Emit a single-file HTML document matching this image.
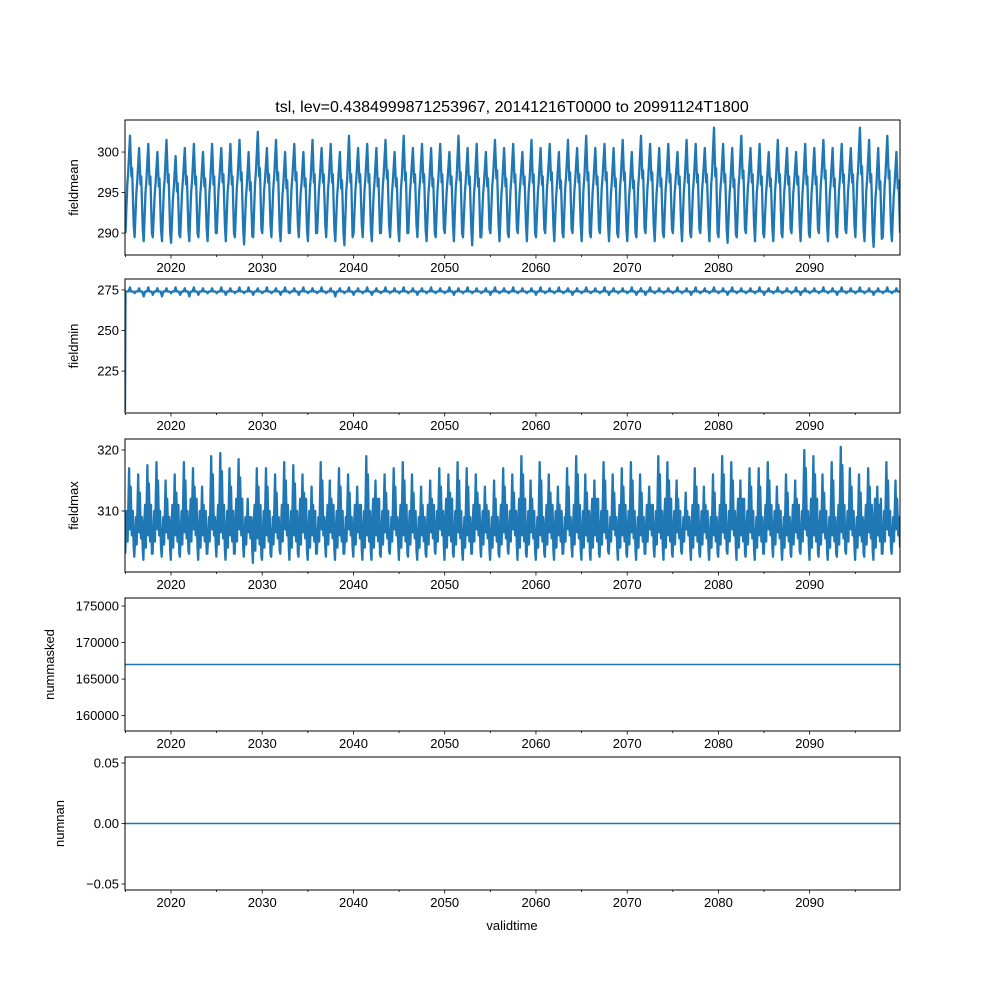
<!DOCTYPE html>
<html><head><meta charset="utf-8"><style>
body{margin:0;background:#fff}
svg text{font-family:"Liberation Sans","DejaVu Sans",sans-serif;font-size:13px;fill:#000}
</style></head><body>
<svg id="fig" width="1000" height="1000" viewBox="0 0 1000 1000" xmlns="http://www.w3.org/2000/svg">
<rect width="1000" height="1000" fill="#fff"/>
<text x="512" y="112" text-anchor="middle" style="font-size:16px">tsl, lev=0.4384999871253967, 20141216T0000 to 20991124T1800</text>
<text x="512" y="930" text-anchor="middle">validtime</text>
</svg>
<script>
const xTickLabels=[2020,2030,2040,2050,2060,2070,2080,2090];
const meanPeak=[302,300.5,301,300,301.5,299.5,300.5,301,300,301,300.5,301,301.5,300,302.5,300.5,301.5,300,301,300,301.5,300.5,301,300,302,300.5,301,300.5,301.5,300,302,300.5,301,300.5,301,300,302,300.5,301,300,301.5,300.5,301,300,301.5,300.5,301,300,301.5,300.5,302,300.5,301,300.5,301.5,300,302,301,300.5,301,300,301.5,301,300.5,303,301,300.5,302,300.5,301,300,301.5,300.5,300,301,300.5,301.5,300.5,301,300.5,303,301.5,300.5,302,300];
const meanTrough=[290,289.5,289,289.5,289,288.8,289.5,289,289.5,289,290,289,289.5,288.6,289.5,290,289.5,289,290,289.5,289,290,289.5,289,288.5,290,289.5,289,290,289.5,289,290,289.5,289,289.5,290,289,289.5,288.5,289.5,290,289,289.5,290,289,289.5,290,289,289.5,290,289,289.5,290,289,289.5,289,289.5,290,289,289.5,290,289,289.5,290,289,289.5,288.8,289.5,290,289,289.5,289,289.5,290,289,289.5,290,289,289.5,290,289.5,289,288.3,289.5,289];
const minPeak=[276.5,276,276.5,276,276,276.5,276,276.5,276,276,276.5,276,276.5,276.5,276,276.5,276,276.5,276,276.5,276,276.5,276,276,276.5,276,276.5,276,276.5,276,276.5,276,276,276.5,276,276.5,276,276.5,276,276,276.5,276,276.5,276,276,276.5,276,276.5,276,276,276.5,276,276.5,276,276,276.5,276,276.5,276,276,276.5,276,276.5,276,276.5,276,276.5,276,276,276.5,276,276.5,276,276.5,276,276,276.5,276,276.5,276,276.5,276,276,276.5,276];
const minTrough=[200,273,271,272,271,273,272,271,272,273,273,272,273,273,272,273,273,272,273,272,273,273,273,271,273,272,273,272,273,273,273,273,272,273,273,273,272,273,273,273,272,273,273,273,273,272,273,273,273,272,273,273,273,272,273,273,272,272,273,273,273,273,272,273,273,273,272,273,273,273,272,273,273,273,272,273,273,273,272,273,273,273,272,273,273];
const maxPeak=[317,316,317.5,318,315,316,318,317,314,319,319.5,317,318.5,312,317,317,316,318,317.5,316,314,318,315,317,316,314,319,315,316,317,318,316,314,315,317,316,318,317,316,314,315,317,316,319,315,318,316,314,317,319,316,315,318,316,317,318,316,314,319,318,315,313,317,314,316,319,318,315,317,317,318,314,316,315,320,319,316,318,320.5,317,316,317,314,318,315];
const maxTrough=[303,302.5,302,303,302.5,302,302.5,303,302,303,302.5,302,303,302.5,301.5,302,302.5,303,302,302.5,302,303,302.5,302,303,302.5,302,302,302.5,303,302,302.5,302,302.5,303,302,302.5,302,303,302.5,302,302.5,303,302,302.5,302,302.5,302,303,302.5,302,302,302.5,303,302,302.5,302,303,302.5,302,302.5,303,302,302.5,302,302.5,303,302,302.5,302,303,302.5,302,302.5,303,302,302.5,302,302.5,303,302,302.5,302,303,303];
const maxMid=[310,309,311,310,309,311,310,312,310,309,311,310,312,309,311,310,309,311,310,312,310,309,311,310,309,311,310,312,310,309,311,310,309,311,310,312,310,309,311,310,309,311,310,312,310,309,311,310,309,311,310,312,310,309,311,310,309,311,310,312,310,309,311,310,309,311,310,312,310,309,311,310,309,311,310,312,310,309,311,310,309,311,312,310,309];
const nummaskedValue=[167000];
const numnanValue=[0];

const svg=document.getElementById('fig');
const NS='http://www.w3.org/2000/svg';
const X0=125,X1=900,T0=2014.96,T1=2099.9;
function xs(t){return X0+(t-T0)/(T1-T0)*(X1-X0);}
function mk(tag,attrs,parent){const e=document.createElementNS(NS,tag);for(const k in attrs)e.setAttribute(k,attrs[k]);(parent||svg).appendChild(e);return e;}

const panels=[
 {name:'fieldmean',top:120,bot:255,y0:287.3,y1:303.95,ticks:[290,295,300],fmt:v=>v,lx:78},
 {name:'fieldmin',top:279,bot:413,y0:199.2,y1:281.7,ticks:[225,250,275],fmt:v=>v,lx:78},
 {name:'fieldmax',top:439,bot:572,y0:300,y1:321.8,ticks:[310,320],fmt:v=>v,lx:78},
 {name:'nummasked',top:598,bot:731,y0:157900,y1:176100,ticks:[160000,165000,170000,175000],fmt:v=>v,lx:54},
 {name:'numnan',top:757,bot:890,y0:-0.055,y1:0.055,ticks:[-0.05,0,0.05],fmt:v=>v.toFixed(2).replace('-','\u2212'),lx:64}
];
function series(pi){
 const pts=[];
 if(pi===0){for(let i=0;i<meanPeak.length;i++){const t=T0+i;const p=meanPeak[i],tr=meanTrough[i];
   pts.push([t+0.05,tr],[t+0.25,(p+tr)/2],[t+0.35,(p+tr)/2+1.5],[t+0.55,p],[t+0.7,(p+tr)/2+1],[t+0.78,(p+tr)/2+2],[t+0.95,tr+1]);}}
 if(pi===1){for(let i=0;i<minPeak.length;i++){const t=T0+i;
   if(i===0){pts.push([t,minTrough[0]],[t+0.05,274]);}else pts.push([t+0.05,minTrough[i]],[t+0.2,274]);
   pts.push([t+0.4,274],[t+0.55,minPeak[i]],[t+0.65,274],[t+0.9,274]);}}
 if(pi===2){for(let i=0;i<maxPeak.length;i++){const t=T0+i;
   pts.push([t+0.02,maxTrough[i]],[t+0.12,maxMid[i]-3],[t+0.2,maxMid[i]],[t+0.28,maxTrough[i]+2],[t+0.45,maxPeak[i]],[t+0.55,maxTrough[i]+4],[t+0.62,maxPeak[i]-3],[t+0.75,maxTrough[i]+3],[t+0.85,maxMid[i]],[t+0.95,maxTrough[i]+1]);}}
 if(pi===3)pts.push([T0,nummaskedValue[0]],[T1,nummaskedValue[0]]);
 if(pi===4)pts.push([T0,numnanValue[0]],[T1,numnanValue[0]]);
 return pts;
}
panels.forEach((p,pi)=>{
 const g=mk('g',{});
 
 
 const ys=v=>p.bot-(v-p.y0)/(p.y1-p.y0)*(p.bot-p.top);
 const cid='c'+pi;
 const cp=mk('clipPath',{id:cid},g);mk('rect',{x:X0,y:p.top,width:X1-X0,height:p.bot-p.top},cp);
 const pts=series(pi).map(d=>xs(d[0]).toFixed(1)+','+ys(d[1]).toFixed(1)).join(' ');
 const line=mk('polyline',{points:pts,fill:'none',stroke:'#1f77b4','stroke-width':pi<3?2.3:1.5,'stroke-linejoin':'round','clip-path':'url(#'+cid+')'},g);
 
 
 const fr=mk('rect',{x:X0,y:p.top,width:X1-X0,height:p.bot-p.top,fill:'none',stroke:'#000','stroke-width':1},g);
 
 
 for(let yr=2015;yr<=2095;yr+=5){const x=xs(yr);const major=yr%10===0;
   mk('line',{x1:x,x2:x,y1:p.bot,y2:p.bot+(major?3.5:2),stroke:'#000','stroke-width':0.8},g);}
 xTickLabels.forEach(v=>{const t=mk('text',{x:xs(v),y:p.bot+17,'text-anchor':'middle'},g);t.textContent=v;
   
   });
 p.ticks.forEach(v=>{const y=ys(v);mk('line',{x1:X0-3.5,x2:X0,y1:y,y2:y,stroke:'#000','stroke-width':0.8},g);
   const t=mk('text',{x:X0-6,y:y+4.5,'text-anchor':'end'},g);t.textContent=p.fmt(v);
   
   });
 const cy=(p.top+p.bot)/2;
 const yl=mk('text',{x:p.lx,y:cy,'text-anchor':'middle',transform:'rotate(-90 '+p.lx+' '+cy+')'},g);
 yl.textContent=p.name;
 
 
});
</script>
</body></html>
